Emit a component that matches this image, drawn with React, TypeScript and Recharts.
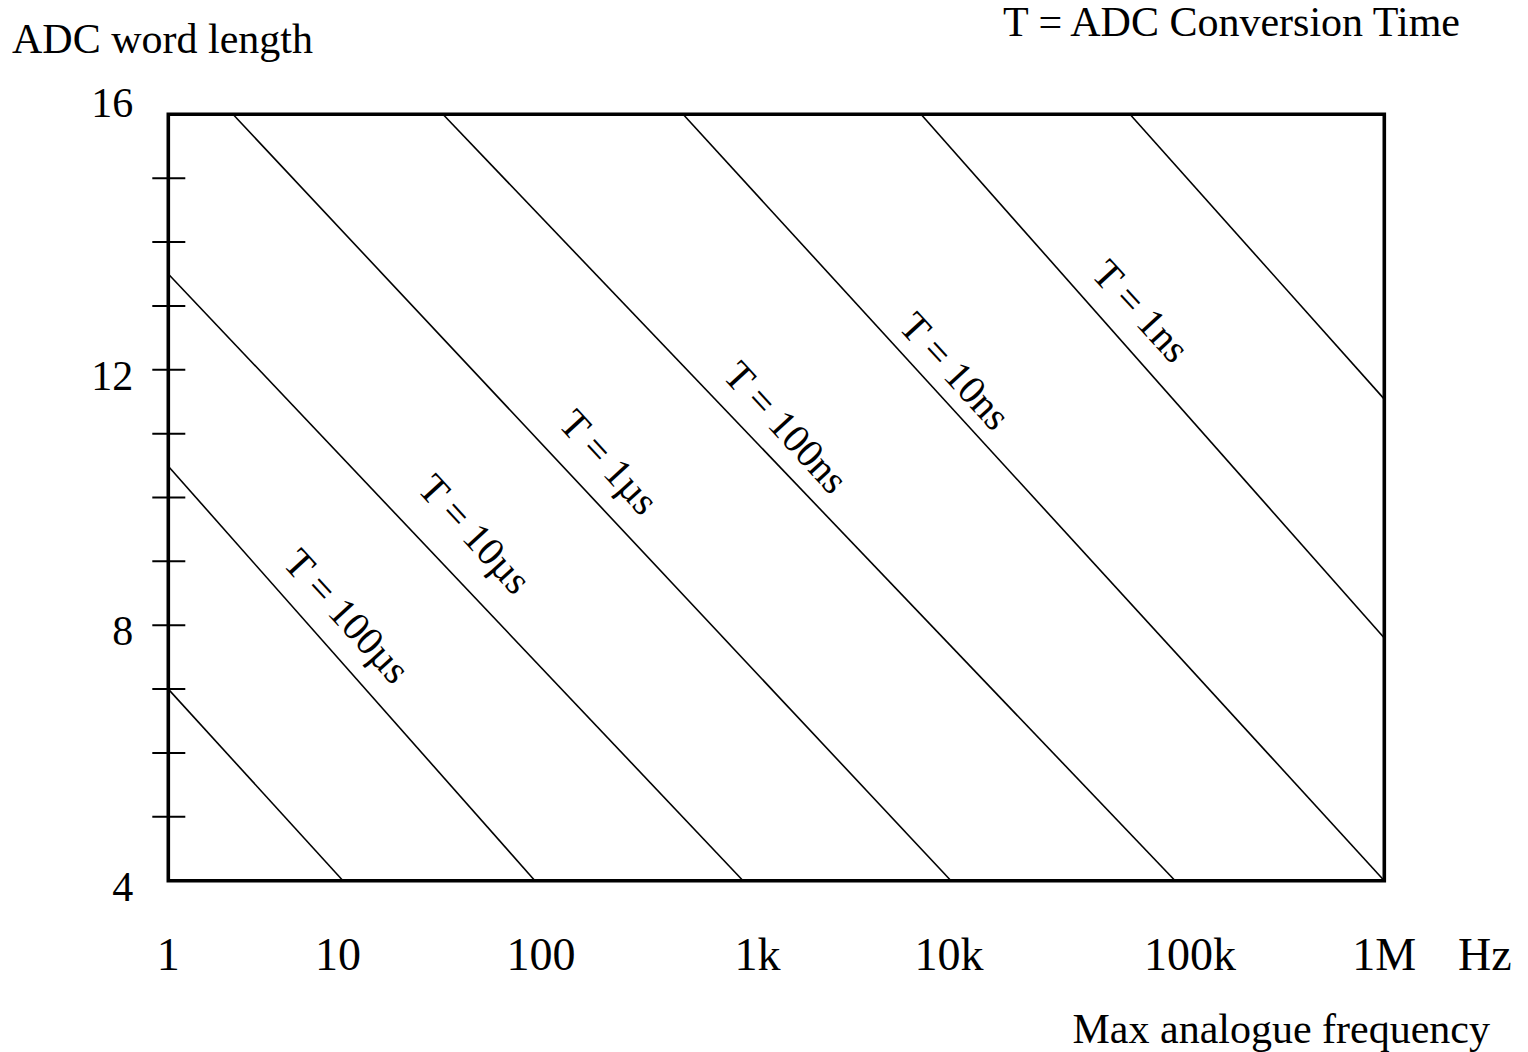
import React from "react";
import {
  LineChart,
  Line,
  XAxis,
  YAxis,
  ReferenceArea,
  ReferenceDot,
} from "recharts";

// x in decades from the left edge (1 Hz = 0, 1 MHz = 6)
const xTickPos = [0, 0.837, 1.839, 2.907, 3.852, 5.041, 6];
const xTickLabels = ["1", "10", "100", "1k", "10k", "100k", "1M"];

const yTicks = [4, 5, 6, 7, 8, 9, 10, 11, 12, 13, 14, 15, 16];
const yLabelTicks = [4, 8, 12, 16];

// conversion-time lines: start and end points (x in decades, y in bits)
const lineStartX = [0, 0, 0, 0.319, 1.355, 2.54, 3.714, 4.745];
const lineStartY = [7.0, 10.49, 13.5, 16, 16, 16, 16, 16];
const lineEndX = [0.862, 1.809, 2.836, 3.862, 4.968, 6, 6, 6];
const lineEndY = [4, 4, 4, 4, 4, 4, 7.8, 11.54];

const curveLabels = ["T = 100µs", "T = 10µs", "T = 1µs", "T = 100ns", "T = 10ns", "T = 1ns"];
const curveLabelX = [0.882, 1.513, 2.175, 3.048, 3.882, 4.8];
const curveLabelY = [8.144, 9.428, 10.556, 11.1, 11.98, 12.92];

const FONT = "'Liberation Serif', 'Times New Roman', serif";

function XTick(props: any) {
  const { x, y, index } = props;
  return (
    <text x={x} y={y + 89} textAnchor="middle" fontFamily={FONT} fontSize={46} fill="#000">
      {xTickLabels[index]}
    </text>
  );
}

function YTick(props: any) {
  const { x, y, payload } = props;
  const v = payload.value;
  const minor = v > 4 && v < 16;
  return (
    <g>
      {minor && <line x1={x - 16} x2={x + 17} y1={y} y2={y} stroke="#000" strokeWidth={2} />}
      {yLabelTicks.includes(v) && (
        <text
          x={x - 35}
          y={y + (v === 16 ? 2.5 : 20)}
          textAnchor="end"
          fontFamily={FONT}
          fontSize={42}
          fill="#000"
        >
          {v}
        </text>
      )}
    </g>
  );
}

export default function App() {
  const segments = lineStartX.map((sx, i) => [
    { x: sx, y: lineStartY[i] },
    { x: lineEndX[i], y: lineEndY[i] },
  ]);

  return (
    <div style={{ position: "absolute", left: 0, top: 0, width: 1528, height: 1052, background: "#fff" }}>
      <LineChart
        width={1528}
        height={1052}
        margin={{ top: 114.3, right: 143.7, bottom: 141.3, left: 108.3 }}
      >
        <XAxis
          type="number"
          dataKey="x"
          domain={[0, 6]}
          ticks={xTickPos}
          interval={0}
          axisLine={false}
          tickLine={false}
          tickSize={0}
          tickMargin={0}
          height={30}
          tick={<XTick />}
        />
        <YAxis
          type="number"
          dataKey="y"
          domain={[4, 16]}
          ticks={yTicks}
          interval={0}
          axisLine={false}
          tickLine={false}
          tickSize={0}
          tickMargin={0}
          width={60}
          tick={<YTick />}
        />
        {segments.map((seg, i) => (
          <Line
            key={i}
            data={seg}
            dataKey="y"
            type="linear"
            stroke="#000"
            strokeWidth={1.6}
            dot={false}
            isAnimationActive={false}
          />
        ))}
        <ReferenceArea x1={0} x2={6} y1={4} y2={16} fill="none" stroke="#000" strokeWidth={3.6} />
        {curveLabels.map((label, i) => (
          <ReferenceDot
            key={label}
            x={curveLabelX[i]}
            y={curveLabelY[i]}
            r={0}
            shape={(p: any) => (
              <text
                x={p.cx}
                y={p.cy}
                textAnchor="middle"
                dominantBaseline="central"
                transform={`rotate(47.5 ${p.cx} ${p.cy})`}
                fontFamily={FONT}
                fontSize={40}
                fill="#000"
              >
                {label}
              </text>
            )}
          />
        ))}
      </LineChart>
      <svg
        width={1528}
        height={1052}
        style={{ position: "absolute", left: 0, top: 0, pointerEvents: "none" }}
      >
        <g fontFamily={FONT} fill="#000">
          <text x={12} y={53} fontSize={42}>ADC word length</text>
          <text x={1003} y={36} fontSize={42}>T = ADC Conversion Time</text>
          <text x={1458} y={970} fontSize={46}>Hz</text>
          <text x={1490} y={1043} fontSize={42} textAnchor="end">Max analogue frequency</text>
        </g>
      </svg>
    </div>
  );
}
